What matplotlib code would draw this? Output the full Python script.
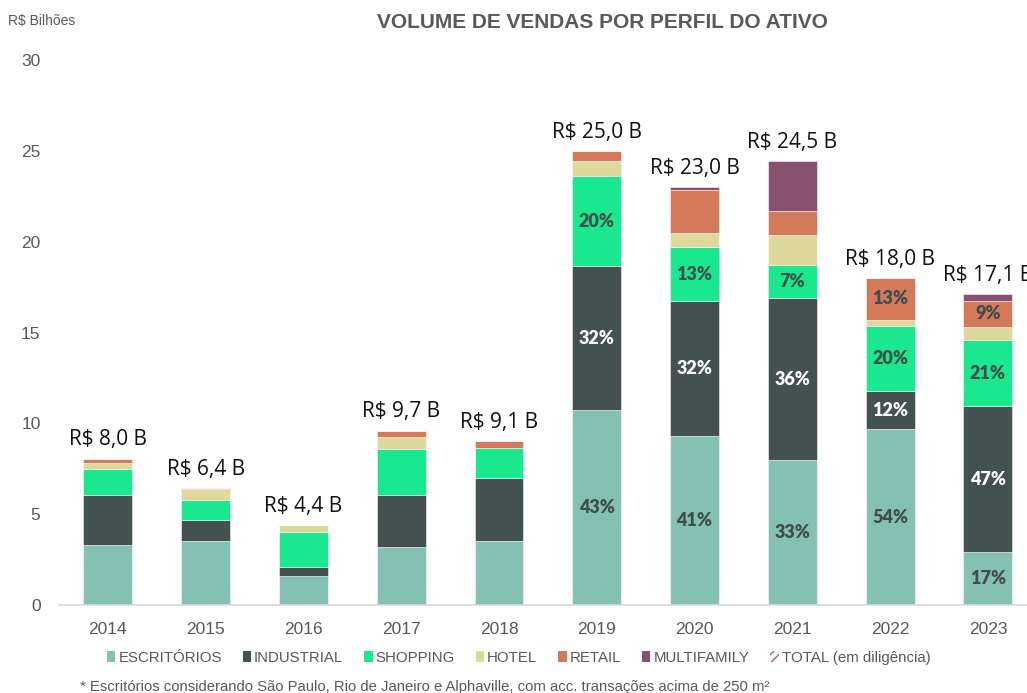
import matplotlib
matplotlib.use("Agg")
import matplotlib.pyplot as plt
from matplotlib.patches import Patch

years = ["2014", "2015", "2016", "2017", "2018", "2019", "2020", "2021", "2022", "2023"]
escritorios = [3.30, 3.54, 1.60, 3.21, 3.52, 10.75, 9.32, 7.98, 9.69, 2.92]
industrial = [2.75, 1.14, 0.47, 2.83, 3.48, 7.90, 7.43, 8.92, 2.09, 8.03]
shopping = [1.45, 1.10, 1.96, 2.55, 1.66, 4.95, 2.95, 1.81, 3.59, 3.65]
hotel = [0.30, 0.59, 0.36, 0.64, 0.00, 0.87, 0.79, 1.67, 0.35, 0.70]
retail = [0.25, 0.05, 0.00, 0.38, 0.38, 0.52, 2.35, 1.30, 2.28, 1.47]
multifamily = [0.00, 0.00, 0.00, 0.00, 0.00, 0.00, 0.16, 2.76, 0.00, 0.36]
totals = ["R$ 8,0 B", "R$ 6,4 B", "R$ 4,4 B", "R$ 9,7 B", "R$ 9,1 B",
          "R$ 25,0 B", "R$ 23,0 B", "R$ 24,5 B", "R$ 18,0 B", "R$ 17,1 B"]

pct_escritorios = ["", "", "", "", "", "43%", "41%", "33%", "54%", "17%"]
pct_industrial = ["", "", "", "", "", "32%", "32%", "36%", "12%", "47%"]
pct_shopping = ["", "", "", "", "", "20%", "13%", "7%", "20%", "21%"]
pct_retail = ["", "", "", "", "", "", "", "", "13%", "9%"]

series_names = ["ESCRITÓRIOS", "INDUSTRIAL", "SHOPPING", "HOTEL", "RETAIL", "MULTIFAMILY"]
colors = ["#84c1b3", "#435251", "#19e88f", "#ddd99c", "#d4795a", "#8a5070"]

fig = plt.figure(figsize=(10.27, 6.93), dpi=100)
ax = fig.add_axes([0.0584, 0.127, 0.9416, 0.786])

series = [escritorios, industrial, shopping, hotel, retail, multifamily]
x = list(range(len(years)))
bottom = [0.0] * len(years)
bars = []
for vals, col in zip(series, colors):
    ax.bar(x, vals, width=0.5, bottom=bottom, color=col,
           edgecolor=(1, 1, 1, 0.6), linewidth=0.6)
    bars.append((vals, list(bottom)))
    bottom = [bo + v for bo, v in zip(bottom, vals)]

pct_font = dict(family=["Lato", "DejaVu Sans"], fontweight="heavy", fontsize=13)
label_sets = [(0, pct_escritorios, "#3e4e4c"), (1, pct_industrial, "white"),
              (2, pct_shopping, "#3e4e4c"), (4, pct_retail, "#3e4e4c")]
for idx, labels, tc in label_sets:
    vals, bots = bars[idx]
    for i, lab in enumerate(labels):
        if lab:
            ax.text(x[i], bots[i] + vals[i] / 2, lab, ha="center", va="center",
                    color=tc, **pct_font)

for i, t in enumerate(totals):
    ax.annotate(t, (x[i], bottom[i]), xytext=(0, 6), textcoords="offset points",
                ha="center", va="bottom", fontsize=15, color="#111111",
                family=["Open Sans", "DejaVu Sans"], annotation_clip=False)

ax.set_ylim(0, 30)
ax.set_xlim(-0.49, 9.4)
ax.set_yticks([0, 5, 10, 15, 20, 25, 30])
ax.set_xticks(x)
ax.set_xticklabels(years)
ax.tick_params(axis="both", length=0, labelsize=12.5, colors="#595959",
               labelfontfamily="Liberation Sans")
ax.tick_params(axis="y", pad=14)
ax.tick_params(axis="x", pad=12)
for s in ["top", "right", "left"]:
    ax.spines[s].set_visible(False)
ax.spines["bottom"].set_color("#d9d9d9")
ax.spines["bottom"].set_linewidth(1.2)

fig.text(0.008, 0.97, "R$ Bilhões", fontsize=10, color="#595959",
         family="Liberation Sans", va="center", ha="left")
fig.text(0.587, 0.968, "VOLUME DE VENDAS POR PERFIL DO ATIVO", fontsize=15,
         fontweight="bold", color="#595959", family="Liberation Sans",
         ha="center", va="center")

handles = [Patch(facecolor=c, edgecolor="none") for c in colors]
handles.append(Patch(facecolor="white", edgecolor="#a0608a", hatch="////", linewidth=0))
names = series_names + ["TOTAL (em diligência)"]
leg = fig.legend(handles, names, loc="center", bbox_to_anchor=(0.505, 0.051), ncol=7,
                 frameon=False, handlelength=0.55, handleheight=0.7,
                 handletextpad=0.2, columnspacing=1.4,
                 prop=dict(family="Liberation Sans", size=10.8))
for t in leg.get_texts():
    t.set_color("#595959")

fig.text(0.078, 0.009, "* Escritórios considerando São Paulo, Rio de Janeiro e Alphaville, com acc. transações acima de 250 m²",
         fontsize=10.7, color="#595959", family="Liberation Sans", ha="left", va="center")

fig.savefig("out.png", dpi=100)
